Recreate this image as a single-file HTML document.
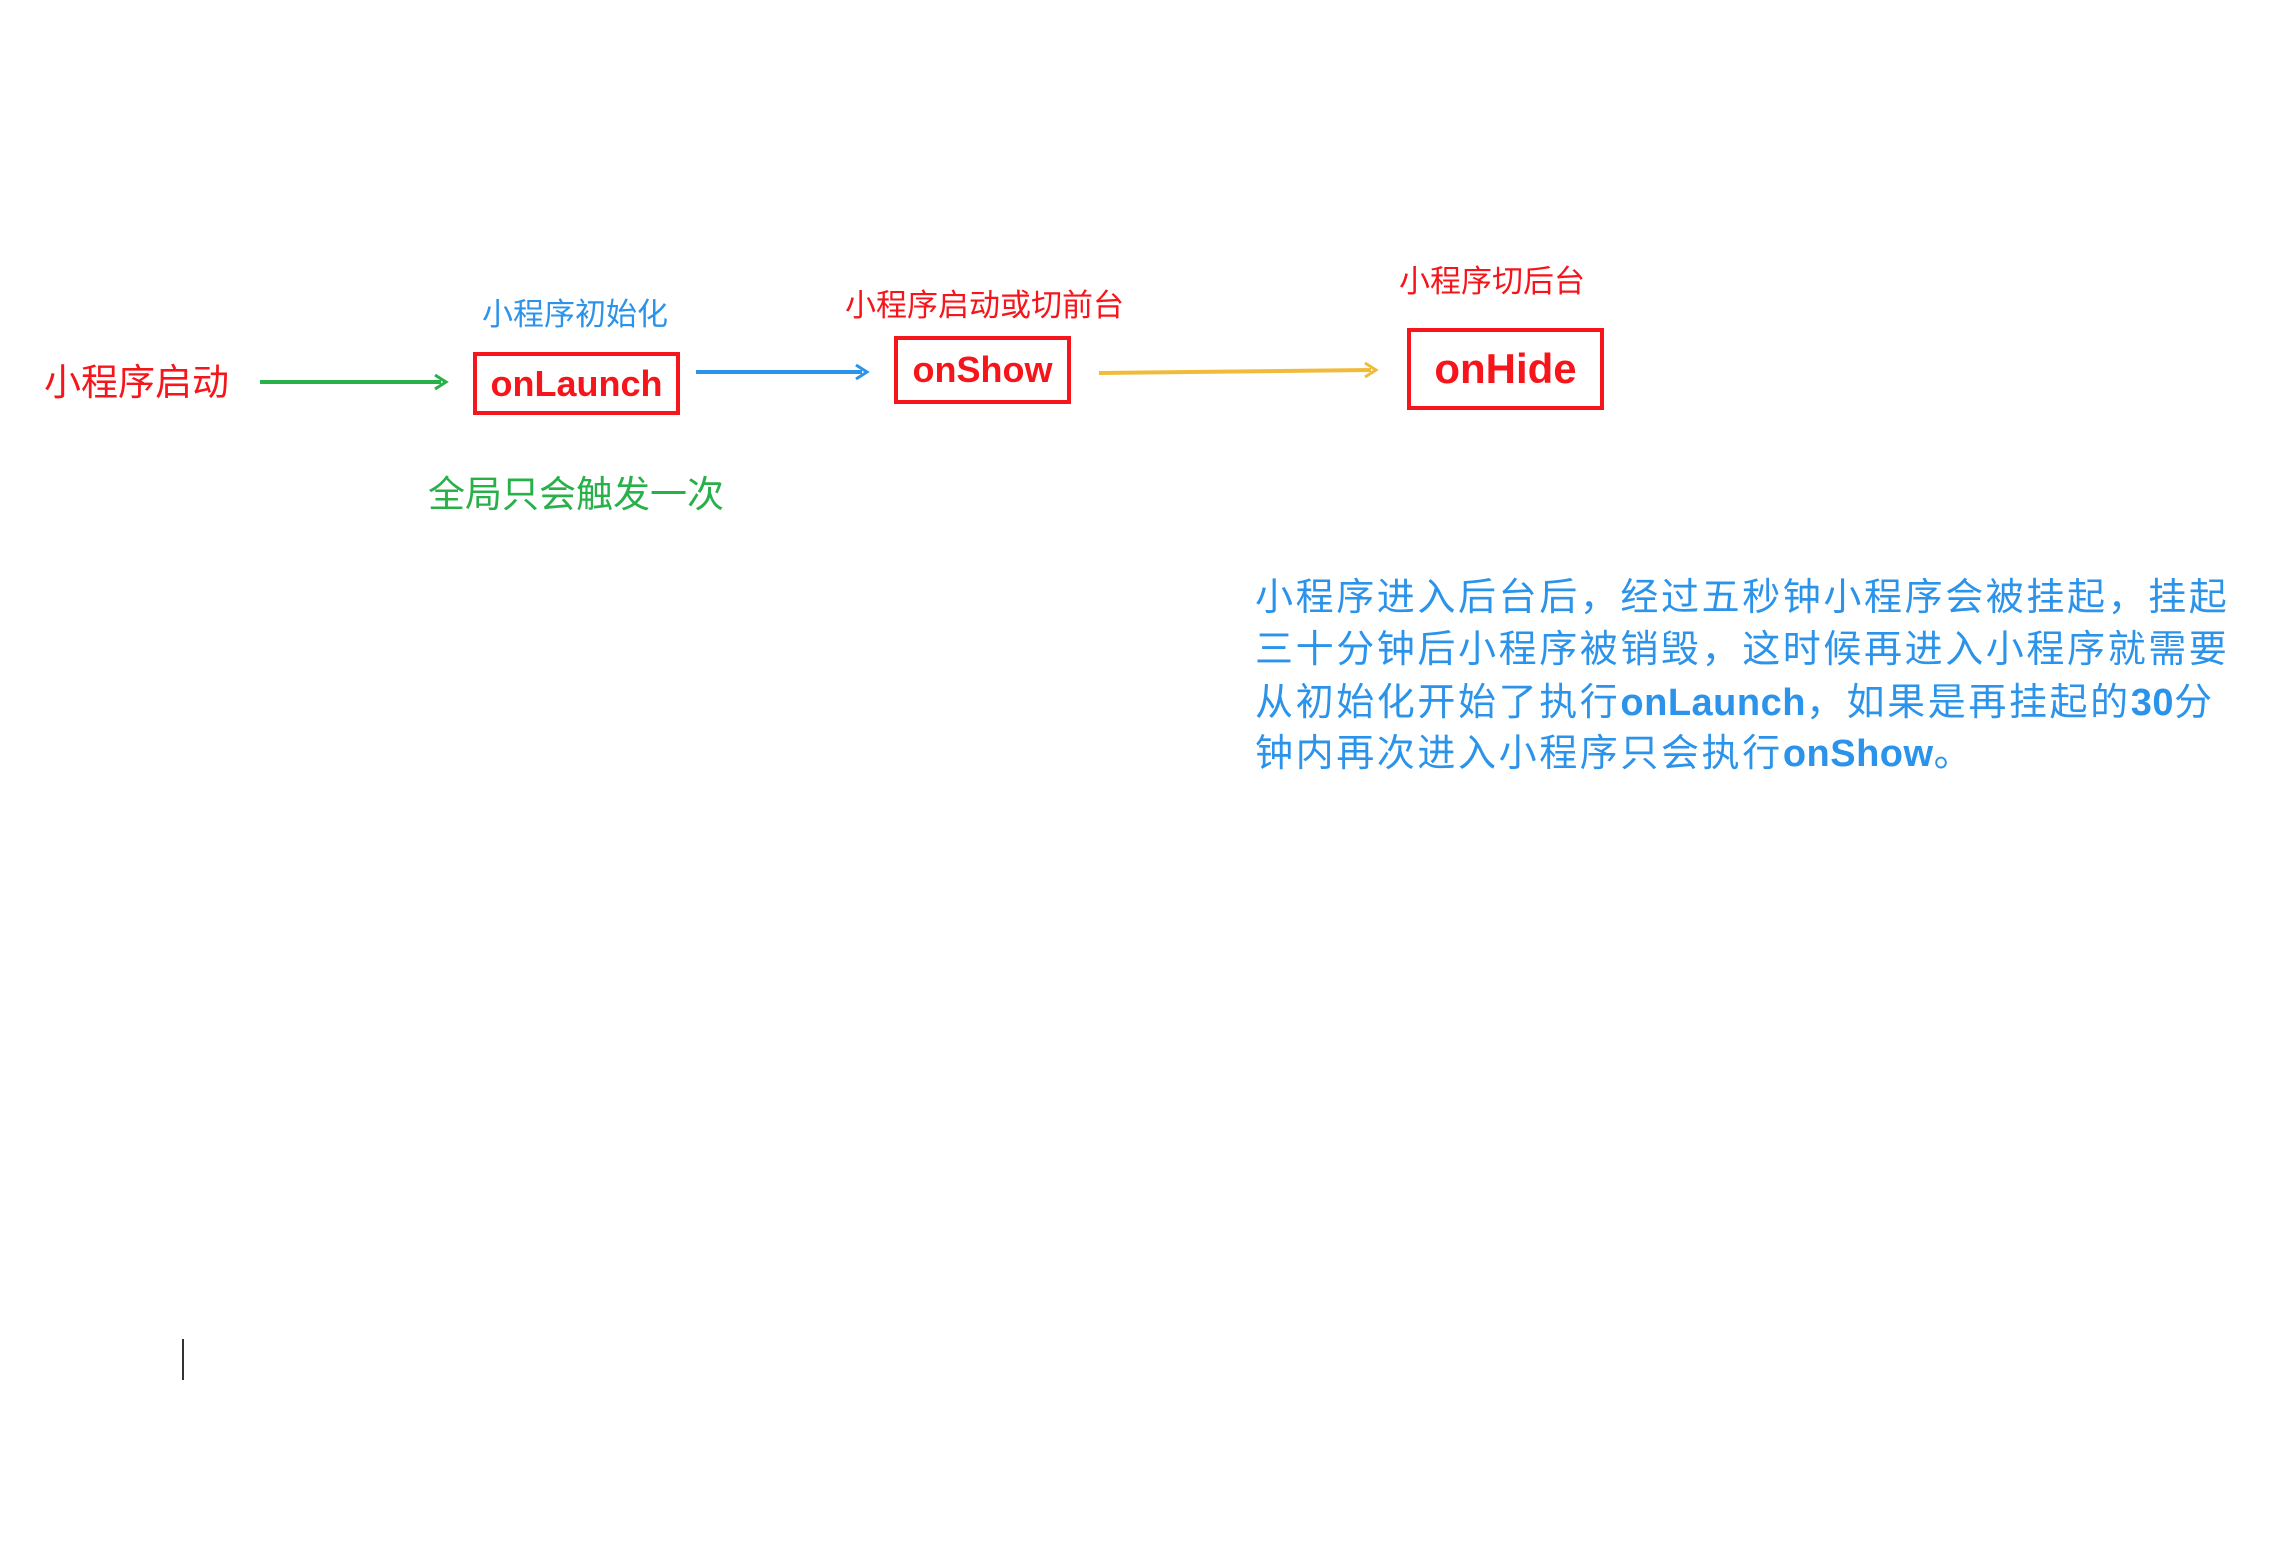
<!DOCTYPE html>
<html><head><meta charset="utf-8"><style>
body{margin:0;width:2283px;height:1560px;background:#fff;position:relative;overflow:hidden;font-family:"Liberation Sans","Noto Sans CJK SC",sans-serif}
.t{position:absolute;white-space:nowrap;line-height:1}
.box{position:absolute;border:4px solid #f5151b;box-sizing:border-box;display:flex;align-items:center;justify-content:center;color:#f5151b;font-weight:bold}
.p{position:absolute;left:1255px;white-space:nowrap;color:#2c93ea;font-size:38px;letter-spacing:2.6px;line-height:1}
.p b{letter-spacing:0.5px}
</style></head><body>
<div class="t" style="left:44px;top:364px;font-size:37px;color:#f5151b">小程序启动</div>
<div class="t" style="left:482px;top:299px;font-size:31px;color:#2c93ea">小程序初始化</div>
<div class="t" style="left:845px;top:290px;font-size:31px;color:#f5151b">小程序启动或切前台</div>
<div class="t" style="left:1399px;top:266px;font-size:31px;color:#f5151b">小程序切后台</div>
<div class="t" style="left:428px;top:476px;font-size:37px;color:#28b04a">全局只会触发一次</div>
<div class="box" style="left:473px;top:352px;width:207px;height:63px;font-size:36px">onLaunch</div>
<div class="box" style="left:894px;top:336px;width:177px;height:68px;font-size:36px">onShow</div>
<div class="box" style="left:1407px;top:328px;width:197px;height:82px;font-size:42px">onHide</div>
<svg style="position:absolute;left:0;top:0" width="2283" height="1560">
<line x1="260" y1="382" x2="441" y2="382" stroke="#28b04a" stroke-width="4"/>
<path d="M435 375 L446 382 L435 389" fill="none" stroke="#28b04a" stroke-width="3"/>
<line x1="696" y1="372" x2="862" y2="372" stroke="#2c93ea" stroke-width="4"/>
<path d="M856 365 L867 372 L856 379" fill="none" stroke="#2c93ea" stroke-width="3"/>
<line x1="1099" y1="373" x2="1371" y2="370" stroke="#f0bb3a" stroke-width="4"/>
<path d="M1365 363 L1376 370 L1365 377" fill="none" stroke="#f0bb3a" stroke-width="3"/>
<line x1="183" y1="1339" x2="183" y2="1380" stroke="#333" stroke-width="2"/>
</svg>
<div class="p" style="top:579px">小程序进入后台后，经过五秒钟小程序会被挂起，挂起</div>
<div class="p" style="top:631px">三十分钟后小程序被销毁，这时候再进入小程序就需要</div>
<div class="p" style="top:684px">从初始化开始了执行<b>onLaunch</b>，如果是再挂起的<b>30</b>分</div>
<div class="p" style="top:735px">钟内再次进入小程序只会执行<b>onShow</b>。</div>
</body></html>
